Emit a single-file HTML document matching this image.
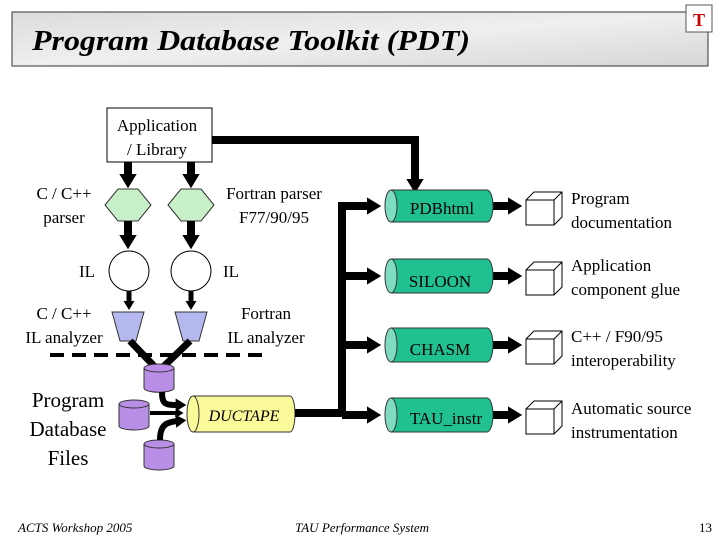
<!DOCTYPE html>
<html><head><meta charset="utf-8"><style>
html,body{margin:0;padding:0;background:#fff;}
svg{display:block;font-family:"Liberation Serif",serif;}
</style></head><body>
<svg width="720" height="540" viewBox="0 0 720 540" xmlns="http://www.w3.org/2000/svg">
<defs>
<marker id="ah" markerWidth="2" markerHeight="2.2" refX="0.4" refY="1.1" orient="auto" markerUnits="strokeWidth"><path d="M0,0 L1.8,1.1 L0,2.2 z" fill="#000"/></marker>
<linearGradient id="mar" x1="0" y1="0" x2="1" y2="1"><stop offset="0" stop-color="#dcdcdc"/><stop offset="0.5" stop-color="#efefef"/><stop offset="1" stop-color="#d6d6d6"/></linearGradient>
</defs>
<rect x="12" y="12" width="696" height="54" fill="url(#mar)" stroke="#333" stroke-width="1"/>
<text x="32" y="50" font-size="29" font-style="italic" font-weight="bold" textLength="438" lengthAdjust="spacingAndGlyphs">Program Database Toolkit (PDT)</text>
<rect x="686" y="5" width="26" height="27" fill="#fff" stroke="#555"/>
<text x="699" y="26" font-size="18" fill="#c00" text-anchor="middle" font-weight="bold">T</text>

<rect x="107" y="108" width="105" height="54" fill="#fff" stroke="#000"/>
<text x="157" y="131" font-size="17" text-anchor="middle">Application</text>
<text x="157" y="155" font-size="17" text-anchor="middle">/ Library</text>
<polyline points="212,140 415,140 415,182" fill="none" stroke="#000" stroke-width="8" marker-end="url(#ah)"/>

<line x1="128" y1="162" x2="128" y2="177" stroke="#000" stroke-width="8" marker-end="url(#ah)"/>
<line x1="191" y1="162" x2="191" y2="177" stroke="#000" stroke-width="8" marker-end="url(#ah)"/>
<polygon points="105,205 118,189 138,189 151,205 138,221 118,221" fill="#c8f0c8" stroke="#333"/>
<polygon points="168,205 181,189 201,189 214,205 201,221 181,221" fill="#c8f0c8" stroke="#333"/>
<line x1="128" y1="221" x2="128" y2="238" stroke="#000" stroke-width="8" marker-end="url(#ah)"/>
<line x1="191" y1="221" x2="191" y2="238" stroke="#000" stroke-width="8" marker-end="url(#ah)"/>
<circle cx="129" cy="271" r="20" fill="#fff" stroke="#000"/>
<circle cx="191" cy="271" r="20" fill="#fff" stroke="#000"/>
<line x1="129" y1="291" x2="129" y2="303" stroke="#000" stroke-width="5" marker-end="url(#ah)"/>
<line x1="191" y1="291" x2="191" y2="303" stroke="#000" stroke-width="5" marker-end="url(#ah)"/>
<polygon points="112,312 144,312 136,341 120,341" fill="#b4b8ee" stroke="#333"/>
<polygon points="175,312 207,312 199,341 183,341" fill="#b4b8ee" stroke="#333"/>
<line x1="130" y1="341" x2="156" y2="368" stroke="#000" stroke-width="7"/>
<line x1="190" y1="341" x2="162" y2="368" stroke="#000" stroke-width="7"/>
<line x1="50" y1="355" x2="268" y2="355" stroke="#000" stroke-width="4" stroke-dasharray="14,8"/>

<g fill="#b88ee6" stroke="#333">
<path d="M144,368 v20 a14,4 0 0 0 30,0 v-20"/><ellipse cx="159" cy="368" rx="15" ry="4"/>
<path d="M119,404 v22 a15,4 0 0 0 30,0 v-22"/><ellipse cx="134" cy="404" rx="15" ry="4"/>
<path d="M144,444 v22 a15,4 0 0 0 30,0 v-22"/><ellipse cx="159" cy="444" rx="15" ry="4"/>
</g>
<path d="M162,392 C162,405 166,405 178,405" fill="none" stroke="#000" stroke-width="6" marker-end="url(#ah)"/>
<line x1="150" y1="413" x2="178" y2="413" stroke="#000" stroke-width="4" marker-end="url(#ah)"/>
<path d="M160,440 C160,425 166,422 178,421" fill="none" stroke="#000" stroke-width="6" marker-end="url(#ah)"/>
<path d="M193,396 H290 a5,18 0 0 1 0,36 H193" fill="#fafa9a" stroke="#333"/>
<ellipse cx="193" cy="414" rx="6" ry="18" fill="#fafa9a" stroke="#333"/>
<text x="244" y="421" font-size="16" font-style="italic" text-anchor="middle">DUCTAPE</text>

<line x1="295" y1="413" x2="346" y2="413" stroke="#000" stroke-width="8"/>
<line x1="342" y1="202" x2="342" y2="417" stroke="#000" stroke-width="8"/>
<g stroke="#000" stroke-width="8" marker-end="url(#ah)">
<line x1="342" y1="206" x2="370" y2="206"/>
<line x1="342" y1="276" x2="370" y2="276"/>
<line x1="342" y1="345" x2="370" y2="345"/>
<line x1="342" y1="415" x2="370" y2="415"/>
<line x1="493" y1="206" x2="511" y2="206"/>
<line x1="493" y1="276" x2="511" y2="276"/>
<line x1="493" y1="345" x2="511" y2="345"/>
<line x1="493" y1="415" x2="511" y2="415"/>
</g>
<g fill="#20c090" stroke="#333">
<path d="M391,190 H487 a6,16 0 0 1 0,32 H391"/><ellipse cx="391" cy="206" rx="6" ry="16" fill="#80dcc0"/>
<path d="M391,259 H487 a6,17 0 0 1 0,34 H391"/><ellipse cx="391" cy="276" rx="6" ry="17" fill="#80dcc0"/>
<path d="M391,328 H487 a6,17 0 0 1 0,34 H391"/><ellipse cx="391" cy="345" rx="6" ry="17" fill="#80dcc0"/>
<path d="M391,398 H487 a6,17 0 0 1 0,34 H391"/><ellipse cx="391" cy="415" rx="6" ry="17" fill="#80dcc0"/>
</g>
<g font-size="17" text-anchor="middle">
<text x="442" y="214">PDBhtml</text>
<text x="440" y="287">SILOON</text>
<text x="440" y="355">CHASM</text>
<text x="446" y="424">TAU_instr</text>
</g>
<g fill="#fff" stroke="#000" stroke-width="1">
<g><path d="M526,200 l8,-8 h28 v25 l-8,8"/><rect x="526" y="200" width="28" height="25"/><line x1="554" y1="200" x2="562" y2="192"/></g>
<g transform="translate(0,70)"><path d="M526,200 l8,-8 h28 v25 l-8,8"/><rect x="526" y="200" width="28" height="25"/><line x1="554" y1="200" x2="562" y2="192"/></g>
<g transform="translate(0,139)"><path d="M526,200 l8,-8 h28 v25 l-8,8"/><rect x="526" y="200" width="28" height="25"/><line x1="554" y1="200" x2="562" y2="192"/></g>
<g transform="translate(0,209)"><path d="M526,200 l8,-8 h28 v25 l-8,8"/><rect x="526" y="200" width="28" height="25"/><line x1="554" y1="200" x2="562" y2="192"/></g>
</g>
<g font-size="17">
<text x="571" y="204">Program</text><text x="571" y="228">documentation</text>
<text x="571" y="271">Application</text><text x="571" y="295">component glue</text>
<text x="571" y="342">C++ / F90/95</text><text x="571" y="366">interoperability</text>
<text x="571" y="414">Automatic source</text><text x="571" y="438">instrumentation</text>
</g>
<g font-size="17">
<text x="64" y="199" text-anchor="middle">C / C++</text><text x="64" y="223" text-anchor="middle">parser</text>
<text x="274" y="199" text-anchor="middle">Fortran parser</text><text x="274" y="223" text-anchor="middle">F77/90/95</text>
<text x="87" y="277" text-anchor="middle">IL</text><text x="231" y="277" text-anchor="middle">IL</text>
<text x="64" y="319" text-anchor="middle">C / C++</text><text x="64" y="343" text-anchor="middle">IL analyzer</text>
<text x="266" y="319" text-anchor="middle">Fortran</text><text x="266" y="343" text-anchor="middle">IL analyzer</text>
</g>
<g font-size="21" text-anchor="middle">
<text x="68" y="407">Program</text><text x="68" y="436">Database</text><text x="68" y="465">Files</text>
</g>
<g font-size="13" font-style="italic">
<text x="18" y="532">ACTS Workshop 2005</text>
<text x="362" y="532" text-anchor="middle">TAU Performance System</text>
</g>
<text x="712" y="532" font-size="13" text-anchor="end">13</text>
</svg>
</body></html>
